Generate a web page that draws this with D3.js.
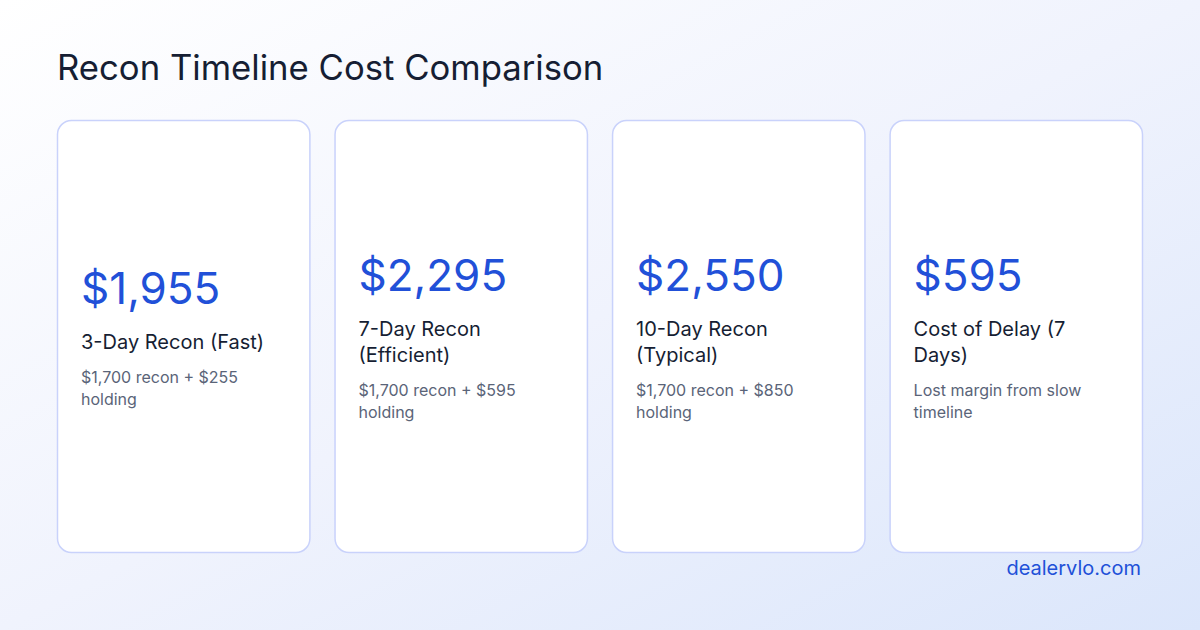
<!DOCTYPE html>
<html><head><meta charset="utf-8">
<script src="https://cdn.jsdelivr.net/npm/d3@7"></script>
<style>body{margin:0;}svg{display:block;font-family:Inter,"Noto Sans",sans-serif;}</style>
</head><body><svg id="c" width="1200" height="630"></svg>
<script>
const title = "Recon Timeline Cost Comparison";
const values = [1955, 2295, 2550, 595];
const labels = ["3-Day Recon (Fast)", "7-Day Recon (Efficient)", "10-Day Recon (Typical)", "Cost of Delay (7 Days)"];
const subs = ["$1,700 recon + $255 holding", "$1,700 recon + $595 holding", "$1,700 recon + $850 holding", "Lost margin from slow timeline"];
const footer = "dealervlo.com";

const svg = d3.select("#c");
const defs = svg.append("defs");
const g = defs.append("linearGradient").attr("id","bg").attr("x1","0").attr("y1","0").attr("x2","1").attr("y2","1");
g.append("stop").attr("offset","0").attr("stop-color","#ffffff");
g.append("stop").attr("offset","0.5").attr("stop-color","#f0f3fd");
g.append("stop").attr("offset","1").attr("stop-color","#dbe6fb");
svg.append("rect").attr("width",1200).attr("height",630).attr("fill","url(#bg)");
svg.append("text").attr("x",57).attr("y",80).attr("font-size",34.7).attr("fill","#161e33").text(title);

const x = d3.scaleBand().domain(d3.range(values.length)).range([57,1143]).paddingInner(0.087);
const cardTop=120, cardH=432, padL=24, maxW=200;
const fmt = d3.format("$,");

function wrapLines(text, size, weight){
  const t = svg.append("text").attr("font-size",size).attr("font-weight",weight);
  const words = text.split(" "); const lines=[]; let cur="";
  for(const w of words){
    const test = cur? cur+" "+w : w;
    t.text(test);
    if(t.node().getComputedTextLength()>maxW && cur){lines.push(cur);cur=w;} else cur=test;
  }
  lines.push(cur); t.remove(); return lines;
}

values.forEach((v,i)=>{
  const cx = x(i), w = x.bandwidth();
  svg.append("rect").attr("x",cx+0.5).attr("y",cardTop+0.5).attr("width",w-1).attr("height",cardH)
    .attr("rx",14).attr("fill","#ffffff").attr("stroke","#c9d2fb").attr("stroke-width",1.5);
  const lab = wrapLines(labels[i],20,400);
  const sub = wrapLines(subs[i],16,400);
  const valH=46, gap1=20, labLH=26, gap2=10, subLH=22;
  const total = valH+gap1+lab.length*labLH+gap2+sub.length*subLH;
  let y = cardTop + cardH/2 - total/2 + 4;
  const gx = cx+padL;
  svg.append("text").attr("x",gx).attr("y",y+valH-9).attr("font-size",44).attr("fill","#2150d8").text(fmt(v));
  y += valH+gap1;
  lab.forEach((l,k)=>svg.append("text").attr("x",gx).attr("y",y+k*labLH+16).attr("font-size",20).attr("fill","#161e33").text(l));
  y += lab.length*labLH+gap2;
  sub.forEach((l,k)=>svg.append("text").attr("x",gx).attr("y",y+k*subLH+14).attr("font-size",16).attr("fill","#5a6478").text(l));
});
svg.append("text").attr("x",1141).attr("y",575).attr("text-anchor","end").attr("font-size",20).attr("fill","#2150d8").text(footer);
</script></body></html>
